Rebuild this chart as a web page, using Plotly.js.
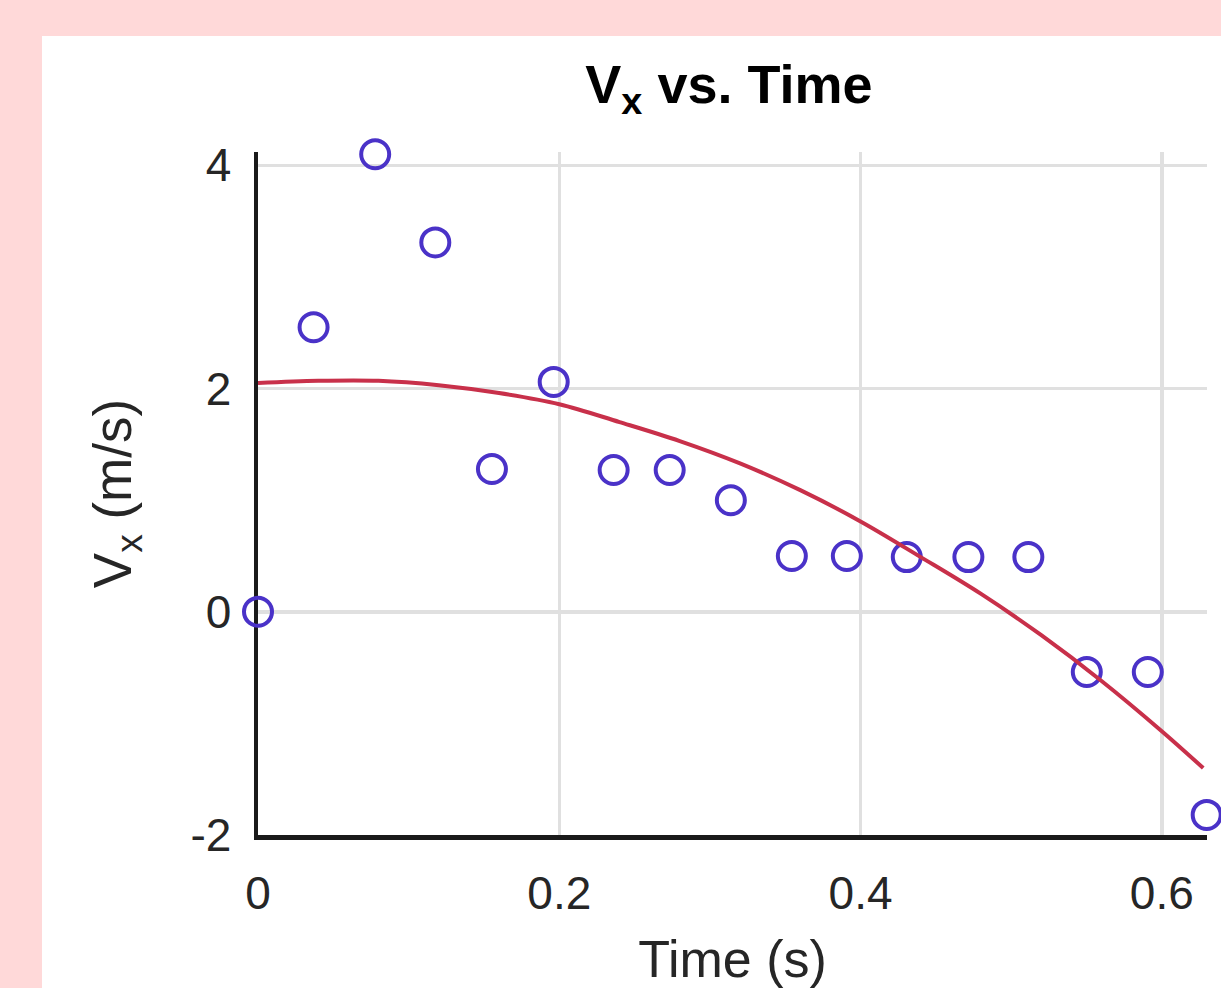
<!DOCTYPE html>
<html>
<head>
<meta charset="utf-8">
<script src="https://cdn.plot.ly/plotly-3.0.1.min.js"></script>
<style>
  html, body { margin: 0; padding: 0; background: #ffd9d9; }
  #chart { width: 1221px; height: 988px; }
</style>
</head>
<body>
<div id="chart"></div>
<script>
// Measured data points (time in s, Vx in m/s)
const timeData = [0, 0.0369, 0.0778, 0.1177, 0.1553, 0.1963, 0.2361, 0.2733, 0.3139,
                  0.3544, 0.3909, 0.4307, 0.4716, 0.5114, 0.5502, 0.5907, 0.6298];
const vxData   = [0, 2.55, 4.10, 3.31, 1.28, 2.06, 1.27, 1.27, 1.00,
                  0.50, 0.50, 0.49, 0.49, 0.49, -0.54, -0.54, -1.82];

// Fitted curve
const fitTime = [0, 0.04, 0.08, 0.12, 0.16, 0.20, 0.24, 0.28, 0.32,
                 0.36, 0.40, 0.44, 0.48, 0.52, 0.56, 0.60, 0.6275];
const fitVx   = [2.05, 2.07, 2.07, 2.03, 1.96, 1.86, 1.70, 1.53, 1.33,
                 1.09, 0.81, 0.49, 0.16, -0.21, -0.62, -1.07, -1.40];

const xTicks = [0, 0.2, 0.4, 0.6];
const xTickText = ['0', '0.2', '0.4', '0.6'];
const yTicks = [-2, 0, 2, 4];
const yTickText = ['-2', '0', '2', '4'];

const FONT = 'Liberation Sans, Arial, Helvetica, sans-serif';
const TXT = '#262626';

const traces = [
  {
    x: timeData, y: vxData,
    type: 'scatter', mode: 'markers',
    cliponaxis: false,
    marker: { symbol: 'circle-open', size: 28, color: '#4a32c8', line: { width: 4, color: '#4a32c8' } },
    hoverinfo: 'skip'
  },
  {
    x: fitTime, y: fitVx,
    type: 'scatter', mode: 'lines',
    cliponaxis: false,
    line: { color: '#c8304a', width: 4, shape: 'spline', smoothing: 1 },
    hoverinfo: 'skip'
  }
];

const layout = {
  width: 1221, height: 988,
  paper_bgcolor: '#ffd9d9',
  plot_bgcolor: '#ffffff',
  showlegend: false,
  margin: { l: 258, r: 14, t: 152, b: 153, pad: 0 },
  font: { family: FONT, color: TXT },
  title: {
    text: '<b>V<sub>x</sub> vs. Time</b>',
    font: { family: FONT, size: 54, color: '#000000' },
    x: 0.597, xanchor: 'center', xref: 'container',
    y: 0.915, yanchor: 'middle', yref: 'container'
  },
  xaxis: {
    range: [0, 0.63],
    tickvals: xTicks, ticktext: xTickText,
    tickfont: { family: FONT, size: 46, color: TXT },
    ticks: '', ticklabelstandoff: 14,
    showgrid: true, gridcolor: '#e0e0e0', gridwidth: 3.5,
    zeroline: false,
    showline: true, linecolor: '#1a1a1a', linewidth: 4.5,
    layer: 'below traces',
    automargin: false,
    title: { text: 'Time (s)', font: { family: FONT, size: 52, color: TXT }, standoff: 41 }
  },
  yaxis: {
    range: [-2, 4.12],
    tickvals: yTicks, ticktext: yTickText,
    tickfont: { family: FONT, size: 46, color: TXT },
    ticks: '', ticklabelstandoff: 13,
    showgrid: true, gridcolor: '#e0e0e0', gridwidth: 3.5,
    zeroline: false,
    showline: true, linecolor: '#1a1a1a', linewidth: 4.5,
    layer: 'below traces',
    automargin: false,
    title: { text: 'V<sub>x</sub> (m/s)', font: { family: FONT, size: 53, color: TXT }, standoff: 43 }
  },
  shapes: [
    {
      type: 'rect', xref: 'paper', yref: 'paper', layer: 'below',
      x0: (42 - 258) / 949, x1: 1.2,
      y0: -0.4, y1: (835 - 36) / 683,
      fillcolor: '#ffffff', line: { width: 0 }
    }
  ]
};

Plotly.newPlot('chart', traces, layout, { displayModeBar: false, staticPlot: true });
</script>
</body>
</html>
